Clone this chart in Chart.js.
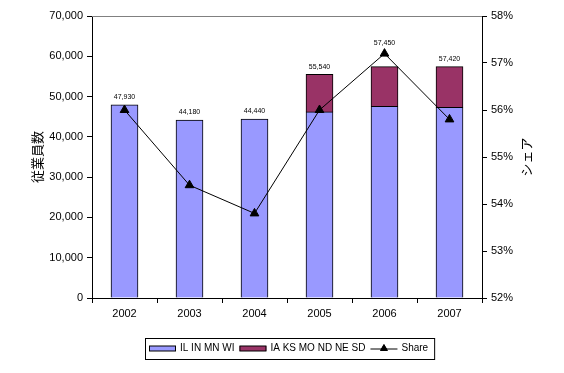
<!DOCTYPE html>
<html>
<head>
<meta charset="utf-8">
<script src="https://cdn.jsdelivr.net/npm/chart.js@4"></script>
<style>
  html, body { margin: 0; padding: 0; background: #fff; }
</style>
</head>
<body>
<canvas id="chart" width="564" height="373"></canvas>
<script>
const years = ["2002", "2003", "2004", "2005", "2006", "2007"];
const eastLabel = "IL IN MN WI";
const westLabel = "IA KS MO ND NE SD";
const shareLabel = "Share";
const eastValues = [47930, 44180, 44440, 46200, 47600, 47300];
const westValues = [null, null, null, 9340, 9850, 10120];
const shareValues = [56.0, 54.4, 53.8, 56.0, 57.2, 55.8];
const yTitle = "従業員数";
const y1Title = "シェア";

const FONT = "'Liberation Sans', Arial, sans-serif";
const CJK = "'Noto Sans CJK JP', sans-serif";

// totals above the bars, top border, right title
const extras = {
  id: "extras",
  afterDatasetsDraw(chart) {
    const { ctx, chartArea: a, scales } = chart;
    ctx.save();
    ctx.strokeStyle = "#808080";
    ctx.lineWidth = 1;
    ctx.beginPath();
    ctx.moveTo(a.left, a.top + 0.5);
    ctx.lineTo(a.right, a.top + 0.5);
    ctx.stroke();

    ctx.font = "7px " + FONT;
    ctx.fillStyle = "#000";
    ctx.textAlign = "center";
    ctx.textBaseline = "bottom";
    const pts = chart.getDatasetMeta(2).data;
    years.forEach((y, i) => {
      const total = eastValues[i] + (westValues[i] || 0);
      const x = scales.x.getPixelForValue(i);
      let top = scales.y.getPixelForValue(total);
      const py = pts[i].y;
      if (py < top && py > top - 16) top = py - 3;
      ctx.fillText(total.toLocaleString("en-US"), x, top - 4);
    });

    ctx.font = "13px " + CJK;
    ctx.textBaseline = "middle";
    ctx.translate(526, (a.top + a.bottom) / 2);
    ctx.rotate(-Math.PI / 2);
    ctx.fillText(y1Title, 0, 0);
    ctx.restore();
  },
  afterDraw(chart) {
    const ctx = chart.ctx;
    ctx.save();
    ctx.font = "10px " + FONT;
    ctx.textBaseline = "middle";
    ctx.fillStyle = "#000";
    const top = 338, bottom = 359, mid = (top + bottom) / 2;
    let x = 149;
    chart.data.datasets.forEach(ds => {
      if (ds.type === "line") {
        ctx.strokeStyle = "#000";
        ctx.lineWidth = 1;
        ctx.beginPath();
        ctx.moveTo(x, mid + 0.5);
        ctx.lineTo(x + 27, mid + 0.5);
        ctx.stroke();
        Chart.helpers.drawPoint(ctx, { pointStyle: "triangle", radius: 4, borderWidth: 1 }, x + 13.5, mid);
        ctx.fillStyle = "#000";
        ctx.fill();
      } else {
        ctx.fillStyle = ds.backgroundColor;
        ctx.fillRect(x, mid - 2.5, 27, 5);
        ctx.strokeStyle = "#000";
        ctx.lineWidth = 1;
        ctx.strokeRect(x + 0.5, mid - 2.5, 26, 5);
      }
      x += 31;
      ctx.fillStyle = "#000";
      ctx.fillText(ds.label, x, mid);
      x += ctx.measureText(ds.label).width + 5;
    });
    ctx.strokeStyle = "#000";
    ctx.lineWidth = 1;
    ctx.strokeRect(145.5, top + 0.5, x + 1 - 145, bottom - top);
    ctx.restore();
  }
};

new Chart(document.getElementById("chart"), {
  data: {
    labels: years,
    datasets: [
      {
        type: "bar",
        label: eastLabel,
        data: eastValues,
        backgroundColor: "#9999FF",
        borderColor: "#000",
        borderWidth: 1,
        barThickness: 27,
        yAxisID: "y",
        order: 1
      },
      {
        type: "bar",
        label: westLabel,
        data: westValues,
        backgroundColor: "#993366",
        borderColor: "#000",
        borderWidth: 1,
        barThickness: 27,
        yAxisID: "y",
        order: 1
      },
      {
        type: "line",
        label: shareLabel,
        data: shareValues,
        borderColor: "#000",
        backgroundColor: "#000",
        borderWidth: 1,
        tension: 0,
        pointStyle: "triangle",
        pointRadius: 5,
        pointBackgroundColor: "#000",
        yAxisID: "y1",
        order: 0
      }
    ]
  },
  options: {
    responsive: false,
    animation: false,
    layout: { padding: { top: 16, bottom: 50, left: 0, right: 0 } },
    plugins: { legend: { display: false }, tooltip: { enabled: false } },
    scales: {
      x: {
        stacked: true,
        grid: { offset: true, drawOnChartArea: false, drawTicks: true, tickLength: 5, color: "#000" },
        border: { color: "#000" },
        ticks: { color: "#000", font: { family: FONT, size: 11 }, padding: 4, maxRotation: 0 },
        afterFit: s => { s.height = 25; }
      },
      y: {
        stacked: true,
        min: 0,
        max: 70000,
        ticks: {
          stepSize: 10000,
          color: "#000",
          font: { family: FONT, size: 11 },
          padding: 4,
          callback: v => v.toLocaleString("en-US")
        },
        grid: { drawOnChartArea: false, drawTicks: true, tickLength: 5, color: "#000" },
        border: { color: "#000" },
        title: {
          display: true,
          text: yTitle,
          color: "#000",
          font: { family: CJK, size: 13 },
          padding: { top: 29, bottom: 0 }
        },
        afterFit: s => { s.width = 92; }
      },
      y1: {
        position: "right",
        min: 52,
        max: 58,
        ticks: {
          stepSize: 1,
          color: "#000",
          font: { family: FONT, size: 11 },
          padding: 4,
          callback: v => v + "%"
        },
        grid: { drawOnChartArea: false, drawTicks: true, tickLength: 5, color: "#000" },
        border: { color: "#000" },
        afterFit: s => { s.width = 82; }
      }
    }
  },
  plugins: [extras]
});
</script>
</body>
</html>
